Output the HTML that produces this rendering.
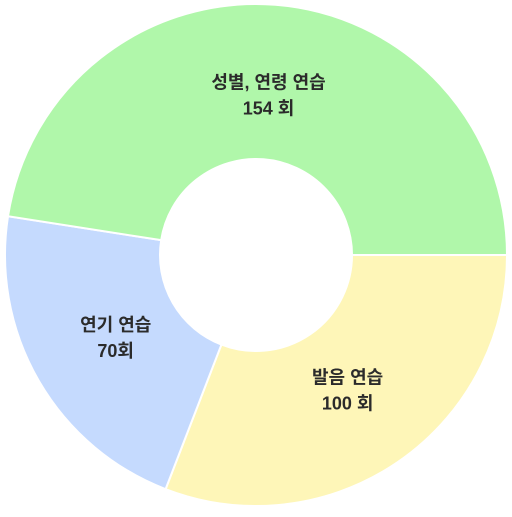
<!DOCTYPE html>
<html><head><meta charset="utf-8"><style>
body{margin:0;background:#fff;width:512px;height:512px;overflow:hidden}
text{font-family:"Liberation Sans","Noto Sans CJK KR",sans-serif;font-weight:bold;font-size:18px;fill:#2b2b2b;text-anchor:middle}
</style></head><body>
<svg id="c" width="512" height="512"></svg>
<script>
const categories=["발음 연습","연기 연습","성별, 연령 연습"];
const values=[100,70,154];
const valueLabels=["100 회","70회","154 회"];
const colors=["#fef6b8","#c5dafe","#b0f7aa"];
const svg=document.getElementById('c');
const NS="http://www.w3.org/2000/svg";
const cx=256,cy=255,R=251,r=96;
const total=values.reduce((a,b)=>a+b,0);
let a0=0;
function pt(rad,a){return [cx+rad*Math.cos(a),cy+rad*Math.sin(a)];}
values.forEach((v,i)=>{
  const a1=a0+v/total*2*Math.PI;
  const large=(a1-a0)>Math.PI?1:0;
  const [x1,y1]=pt(R,a0),[x2,y2]=pt(R,a1),[x3,y3]=pt(r,a1),[x4,y4]=pt(r,a0);
  const p=document.createElementNS(NS,'path');
  p.setAttribute('d',`M${x1},${y1}A${R},${R} 0 ${large} 1 ${x2},${y2}L${x3},${y3}A${r},${r} 0 ${large} 0 ${x4},${y4}Z`);
  p.setAttribute('fill',colors[i]);p.setAttribute('stroke','#fff');p.setAttribute('stroke-width','2');
  
  
  svg.appendChild(p);
  const m=(a0+a1)/2;const [lx,ly]=pt(162,m);
  const t=document.createElementNS(NS,'text');
  t.setAttribute('x',lx);t.setAttribute('y',ly-5);
  
  
  const s1=document.createElementNS(NS,'tspan');s1.setAttribute('x',lx);s1.textContent=categories[i];
  const s2=document.createElementNS(NS,'tspan');s2.setAttribute('x',lx);s2.setAttribute('dy','26');s2.textContent=valueLabels[i];
  t.appendChild(s1);t.appendChild(s2);svg.appendChild(t);
  a0=a1;
});
</script>
</body></html>
